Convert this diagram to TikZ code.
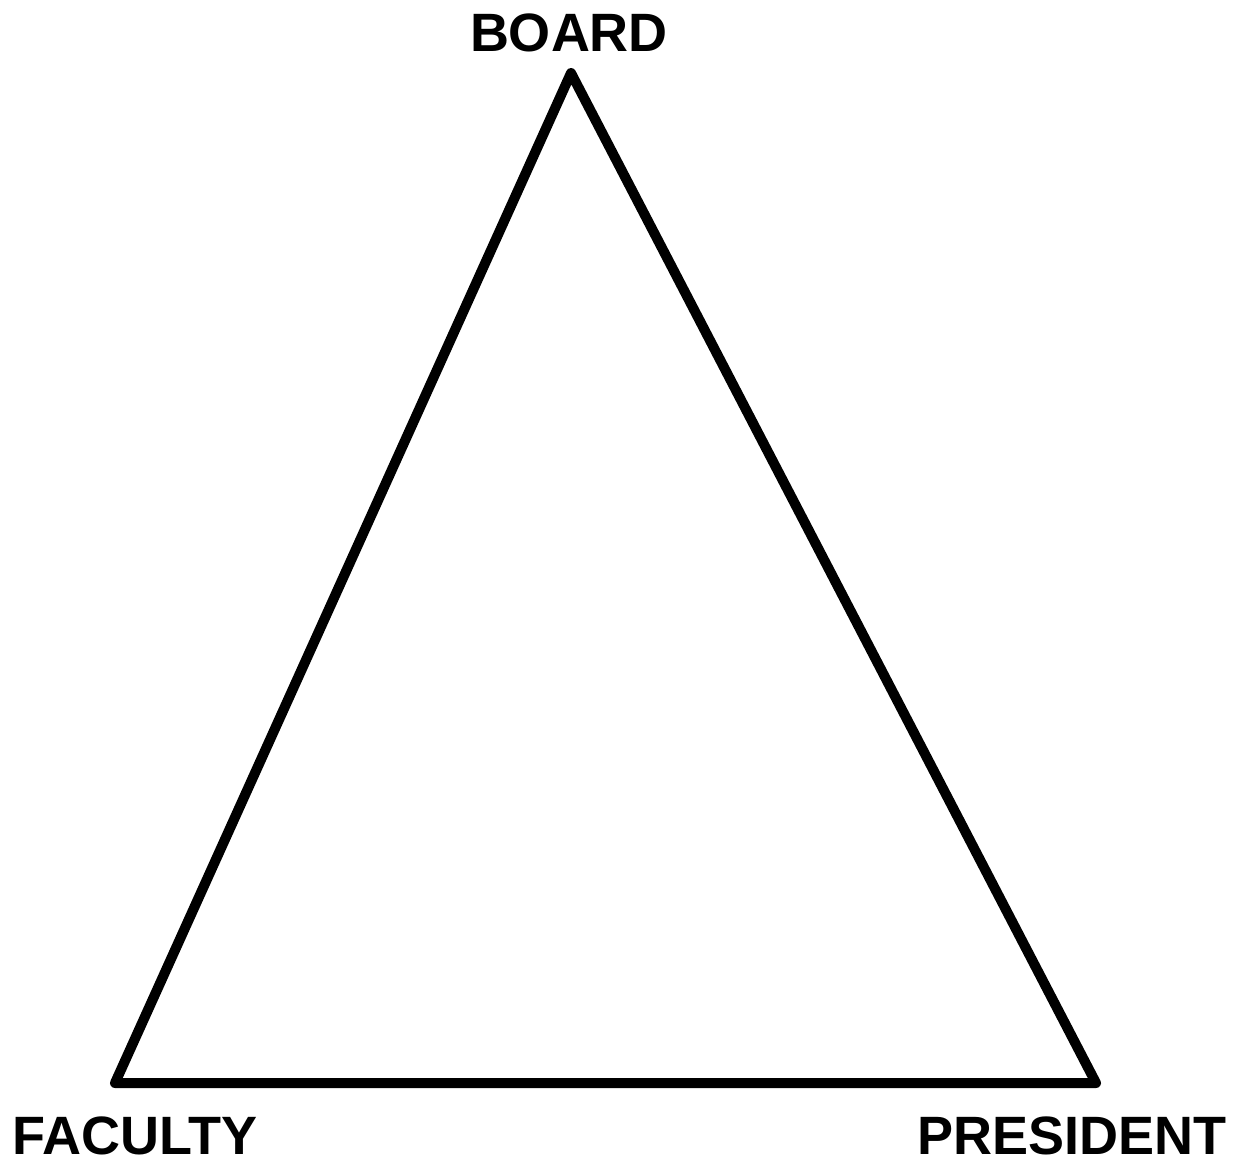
\documentclass[tikz,border=0pt]{standalone}
\usepackage{fontspec}
\setmainfont{Liberation Sans}
\begin{document}
\begin{tikzpicture}[x=1pt,y=-1pt,
  lbl/.style={font=\fontsize{54}{60}\selectfont\bfseries, inner sep=0pt},
  edge/.style={line width=10pt, line join=round, line cap=round}]
\useasboundingbox[fill=white] (0,0) rectangle (1237,1165);
\coordinate (b) at (571,73);
\coordinate (f) at (115,1083);
\coordinate (p) at (1096,1083);
\draw[edge] (b) -- (p) -- (f) -- cycle;
\node[lbl, anchor=base] (board) at (569,51) {BOARD};
\node[lbl, anchor=base west] (faculty) at (12,1154) {FACULTY};
\node[lbl, anchor=base east] (president) at (1227,1154) {PRESIDENT};
\end{tikzpicture}
\end{document}
